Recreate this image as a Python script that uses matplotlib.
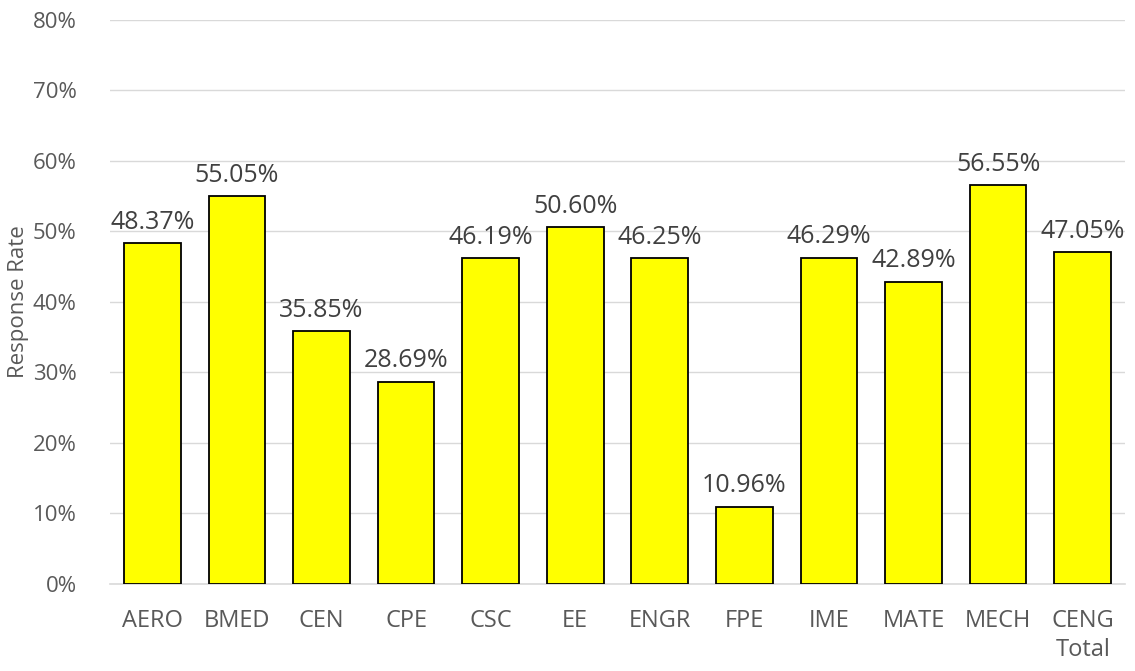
import matplotlib.pyplot as plt
from matplotlib.ticker import FuncFormatter

# Response rate by department

departments = ['AERO', 'BMED', 'CEN', 'CPE', 'CSC', 'EE', 'ENGR', 'FPE',
               'IME', 'MATE', 'MECH', 'CENG\nTotal']
rates = [48.37, 55.05, 35.85, 28.69, 46.19, 50.60, 46.25, 10.96,
         46.29, 42.89, 56.55, 47.05]
rateLabels = ['48.37%', '55.05%', '35.85%', '28.69%', '46.19%', '50.60%',
              '46.25%', '10.96%', '46.29%', '42.89%', '56.55%', '47.05%']

plt.rcParams['font.family'] = ['Open Sans', 'DejaVu Sans']
textColor = '#595959'

fig = plt.figure(figsize=(11.35, 6.71), dpi=100)
ax = fig.add_axes([0.0969, 0.1297, 0.8943, 0.8405])

xs = range(len(departments))
bars = ax.bar(xs, rates, 0.67, color='#ffff00', edgecolor='black',
              linewidth=1.3, zorder=3)

for x, r, lab in zip(xs, rates, rateLabels):
    ax.annotate(lab, (x, r), xytext=(0, 6), textcoords='offset points',
                ha='center', va='bottom', fontsize=18, color='#404040')

ax.set_xlim(-0.5, len(departments) - 0.5)
ax.set_ylim(0, 80)
ax.set_yticks(range(0, 81, 10))
ax.yaxis.set_major_formatter(FuncFormatter(lambda v, p: '%d%%' % v))
ax.set_xticks(list(xs))
ax.set_xticklabels(departments, linespacing=1.3)
ax.tick_params(axis='both', length=0, colors=textColor)
ax.tick_params(axis='x', pad=18, labelsize=17)
ax.tick_params(axis='y', pad=24, labelsize=16)
ax.grid(axis='y', color='#d9d9d9', linewidth=1, zorder=0)
for s in ['top', 'right', 'left']:
    ax.spines[s].set_visible(False)
ax.spines['bottom'].set_color('#d9d9d9')
ax.spines['bottom'].set_linewidth(1.2)

ax.set_ylabel('Response Rate', fontsize=16, color=textColor)
ax.yaxis.set_label_coords(-0.08, 0.5)

fig.savefig('out.png', dpi=100)
